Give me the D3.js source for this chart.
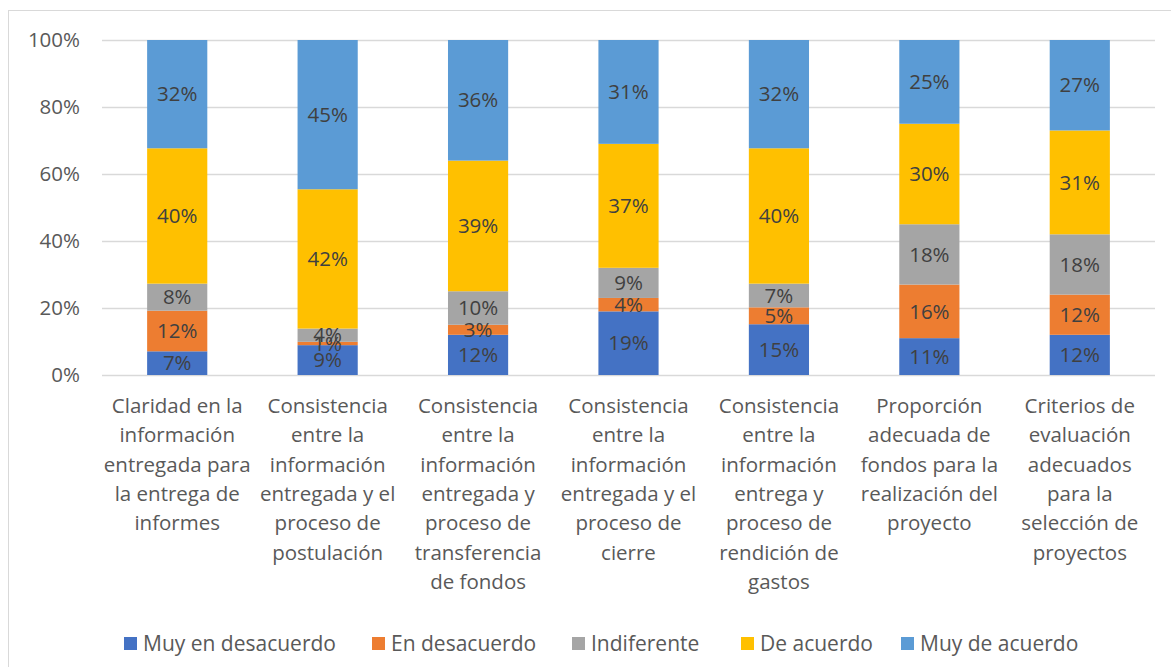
<!DOCTYPE html>
<html>
<head>
<meta charset="utf-8">
<script src="https://cdn.jsdelivr.net/npm/d3@7"></script>
<style>
  html, body { margin: 0; padding: 0; background: #fff; }
  svg { display: block; font-family: "Open Sans", Lato, sans-serif; }
</style>
</head>
<body>
<svg id="chart" width="1171" height="667"></svg>
<script>
const categories = [
  ["Claridad en la", "información", "entregada para", "la entrega de", "informes"],
  ["Consistencia", "entre la", "información", "entregada y el", "proceso de", "postulación"],
  ["Consistencia", "entre la", "información", "entregada y", "proceso de", "transferencia", "de fondos"],
  ["Consistencia", "entre la", "información", "entregada y el", "proceso de", "cierre"],
  ["Consistencia", "entre la", "información", "entrega y", "proceso de", "rendición de", "gastos"],
  ["Proporción", "adecuada de", "fondos para la", "realización del", "proyecto"],
  ["Criterios de", "evaluación", "adecuados", "para la", "selección de", "proyectos"]
];
const seriesNames = ["Muy en desacuerdo", "En desacuerdo", "Indiferente", "De acuerdo", "Muy de acuerdo"];
const muyEnDesacuerdo = [7, 9, 12, 19, 15, 11, 12];
const enDesacuerdo    = [12, 1, 3, 4, 5, 16, 12];
const indiferente     = [8, 4, 10, 9, 7, 18, 18];
const deAcuerdo       = [40, 42, 39, 37, 40, 30, 31];
const muyDeAcuerdo    = [32, 45, 36, 31, 32, 25, 27];
const yTicks = [0, 0.2, 0.4, 0.6, 0.8, 1];
const colors = ["#4472C4", "#ED7D31", "#A5A5A5", "#FFC000", "#5B9BD5"];

const seriesValues = [muyEnDesacuerdo, enDesacuerdo, indiferente, deAcuerdo, muyDeAcuerdo];
const rows = categories.map((c, i) => {
  const r = { idx: i };
  seriesNames.forEach((s, j) => r[s] = seriesValues[j][i]);
  return r;
});

const svg = d3.select("#chart");
const m = { left: 102, right: 1155, top: 40, bottom: 375 };
const FS = "20.5px";

// outer border
svg.append("rect").attr("x", 8.5).attr("y", 10.5).attr("width", 1170).attr("height", 670)
  .attr("fill", "#fff").attr("stroke", "#D9D9D9").attr("stroke-width", 1);

const x = d3.scaleBand().domain(d3.range(categories.length)).range([m.left, m.right]).paddingInner(0.6).paddingOuter(0.3);
const y = d3.scaleLinear().domain([0, 1]).range([m.bottom, m.top]);

const stack = d3.stack().keys(seriesNames).offset(d3.stackOffsetExpand);
const stacked = stack(rows);

// grid
svg.append("g").selectAll("line").data(yTicks).join("line")
  .attr("x1", m.left).attr("x2", m.right)
  .attr("y1", d => Math.round(y(d)) + 0.5).attr("y2", d => Math.round(y(d)) + 0.5)
  .attr("stroke", "#D9D9D9").attr("stroke-width", 1.3);

// y axis labels
const yAxis = d3.axisLeft(y).tickValues(yTicks).tickFormat(d3.format(".0%")).tickSize(0).tickPadding(0);
const yg = svg.append("g").attr("transform", `translate(${m.left - 22},0)`).call(yAxis);
yg.select(".domain").remove();
yg.selectAll("text").attr("fill", "#595959").style("font-size", FS).style("font-family", "'Open Sans', sans-serif");

// bars
const groups = svg.append("g").selectAll("g").data(stacked).join("g")
  .attr("fill", (d, i) => colors[i]);
groups.selectAll("rect").data(d => d).join("rect")
  .attr("x", (d, i) => x(i))
  .attr("width", x.bandwidth())
  .attr("y", d => y(d[1]))
  .attr("height", d => y(d[0]) - y(d[1]));

// data labels
const labels = svg.append("g");
stacked.forEach((s, si) => {
  labels.selectAll(null).data(s).join("text")
    .attr("x", (d, i) => x(i) + x.bandwidth() / 2)
    .attr("y", d => (y(d[0]) + y(d[1])) / 2)
    .attr("dy", "0.35em")
    .attr("text-anchor", "middle")
    .attr("fill", "#404040")
    .style("font-size", FS)
    .text(d => d.data[s.key] + "%");
});

// x labels
const xl = svg.append("g");
categories.forEach((lines, i) => {
  const t = xl.append("text")
    .attr("text-anchor", "middle")
    .attr("fill", "#595959")
    .style("font-size", FS)
    .attr("x", x(i) + x.bandwidth() / 2)
    .attr("y", 413);
  lines.forEach((ln, k) => {
    t.append("tspan").attr("x", x(i) + x.bandwidth() / 2).attr("y", 413 + k * 29.3).text(ln);
  });
});

// legend
const legX = [124, 372, 572, 741, 901];
const leg = svg.append("g");
seriesNames.forEach((s, i) => {
  leg.append("rect").attr("x", legX[i]).attr("y", 637).attr("width", 13).attr("height", 13).attr("fill", colors[i]);
  leg.append("text").attr("x", legX[i] + 19).attr("y", 643.5).attr("dy", "0.35em")
    .attr("fill", "#595959").style("font-size", "21px").text(s);
});
</script>
</body>
</html>
